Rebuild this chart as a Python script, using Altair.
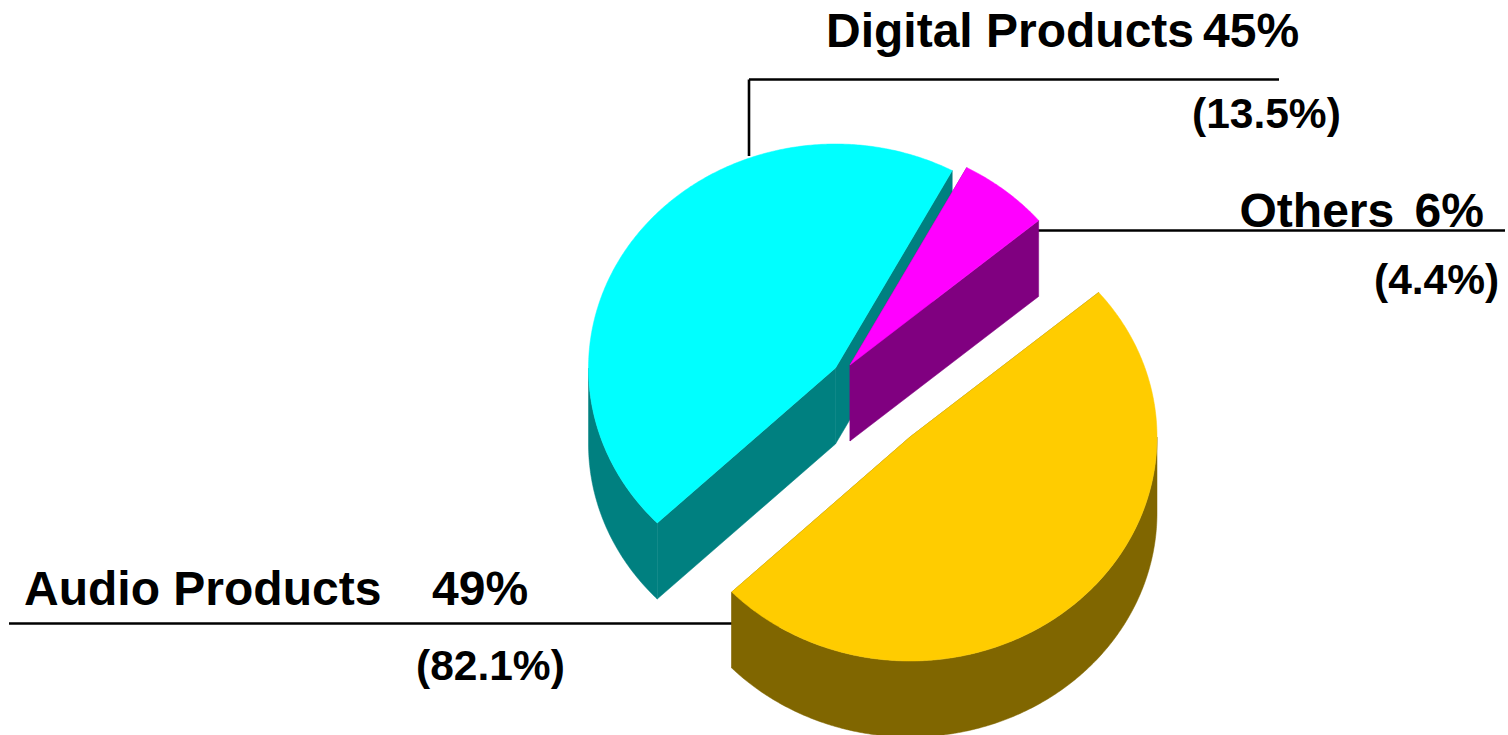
import math

import altair as alt
import pandas as pd

# Share of sales per product group, with the share of operating income in brackets
names = ["Audio Products", "Digital Products", "Others"]
shares = [49, 45, 6]
bracketed = ["82.1%", "13.5%", "4.4%"]

# Pie drawing parameters, in pixels of the 1508x735 canvas
START_ANGLE = 49.8
RX, RY = 247, 224
DEPTH = 76
CENTERS = {"Audio Products": (910, 437), "Digital Products": (835.5, 368), "Others": (850, 365)}
TOP = {"Audio Products": "#FFCC00", "Digital Products": "#00FFFF", "Others": "#FF00FF"}
WALL = {"Audio Products": "#806600", "Digital Products": "#008080", "Others": "#800080"}
DRAW_ORDER = ["Digital Products", "Others", "Audio Products"]


def rim(center, angle):
    a = math.radians(angle)
    return [center[0] + RX * math.sin(a), center[1] - RY * math.cos(a)]


def arc(center, a0, a1):
    steps = max(2, int(abs(a1 - a0) * 2))
    return [rim(center, a0 + (a1 - a0) * i / steps) for i in range(steps + 1)]


def down(points):
    return [[x, y + DEPTH] for x, y in points]


def feature(ring, colour):
    return {
        "type": "Feature",
        "properties": {"fill": colour},
        "geometry": {"type": "Polygon", "coordinates": [ring + [ring[0]]]},
    }


# Walk clockwise round the pie so each wedge spans its own share
spans = {}
angle = START_ANGLE
for name, share in zip(names, shares):
    spans[name] = (angle, angle + share * 3.6)
    angle += share * 3.6

features = []
for name in DRAW_ORDER:
    a0, a1 = spans[name]
    c = list(CENTERS[name])
    edge = arc(c, a0, a1)
    # Cut faces
    for tip in (edge[0], edge[-1]):
        features.append(feature([c, tip] + down([tip, c]), WALL[name]))
    # Curved outer wall, only on the part of the rim that faces the viewer
    lo, hi = max(a0, 90), min(a1, 270)
    if hi > lo:
        front = arc(c, lo, hi)
        features.append(feature(front + down(front)[::-1], WALL[name]))
    # Top surface
    features.append(feature([c] + edge, TOP[name]))

pie = (
    alt.Chart(alt.InlineData(values=features))
    .mark_geoshape(strokeWidth=0.5)
    .encode(
        fill=alt.Fill("properties.fill:N", scale=None, legend=None),
        stroke=alt.Stroke("properties.fill:N", scale=None, legend=None),
    )
    .project(type="identity", scale=1, translate=[0, 0])
)

# Leader lines from the wedges to their labels
leaders = pd.DataFrame(
    {
        "x": [749, 749, 1038, 9],
        "x2": [1279, 749, 1505, 733],
        "y": [79.5, 79.5, 230.5, 623.5],
        "y2": [79.5, 156, 230.5, 623.5],
    }
)
leader_lines = (
    alt.Chart(leaders)
    .mark_rule(color="black", strokeWidth=2.6)
    .encode(
        x=alt.X("x:Q", scale=None),
        x2="x2:Q",
        y=alt.Y("y:Q", scale=None),
        y2="y2:Q",
    )
)

name_text = dict(zip(names, names))
share_text = {n: f"{s}%" for n, s in zip(names, shares)}
paren_text = {n: f"({b})" for n, b in zip(names, bracketed)}

labels = pd.DataFrame(
    [
        {"text": name_text["Digital Products"], "x": 826, "y": 47, "size": 48},
        {"text": share_text["Digital Products"], "x": 1203, "y": 47, "size": 48},
        {"text": paren_text["Digital Products"], "x": 1192, "y": 128, "size": 42.5},
        {"text": name_text["Others"], "x": 1239.5, "y": 227, "size": 48},
        {"text": share_text["Others"], "x": 1414.5, "y": 227, "size": 48},
        {"text": paren_text["Others"], "x": 1374, "y": 294, "size": 42.5},
        {"text": name_text["Audio Products"], "x": 24, "y": 605, "size": 48},
        {"text": share_text["Audio Products"], "x": 432, "y": 605, "size": 48},
        {"text": paren_text["Audio Products"], "x": 416, "y": 680, "size": 42.5},
    ]
)
label_marks = (
    alt.Chart(labels)
    .mark_text(
        font="Liberation Sans",
        fontWeight="bold",
        color="black",
        align="left",
        baseline="alphabetic",
    )
    .encode(
        x=alt.X("x:Q", scale=None),
        y=alt.Y("y:Q", scale=None),
        text="text:N",
        size=alt.Size("size:Q", scale=None, legend=None),
    )
)

chart = (
    alt.layer(leader_lines, pie, label_marks)
    .properties(
        width=1508,
        height=735,
        padding=0,
        autosize=alt.AutoSizeParams(type="none"),
        background="white",
    )
    .configure_view(stroke=None)
    .configure_axis(disable=True)
)

chart.save("out.html", embed_options={"renderer": "svg", "actions": False})
